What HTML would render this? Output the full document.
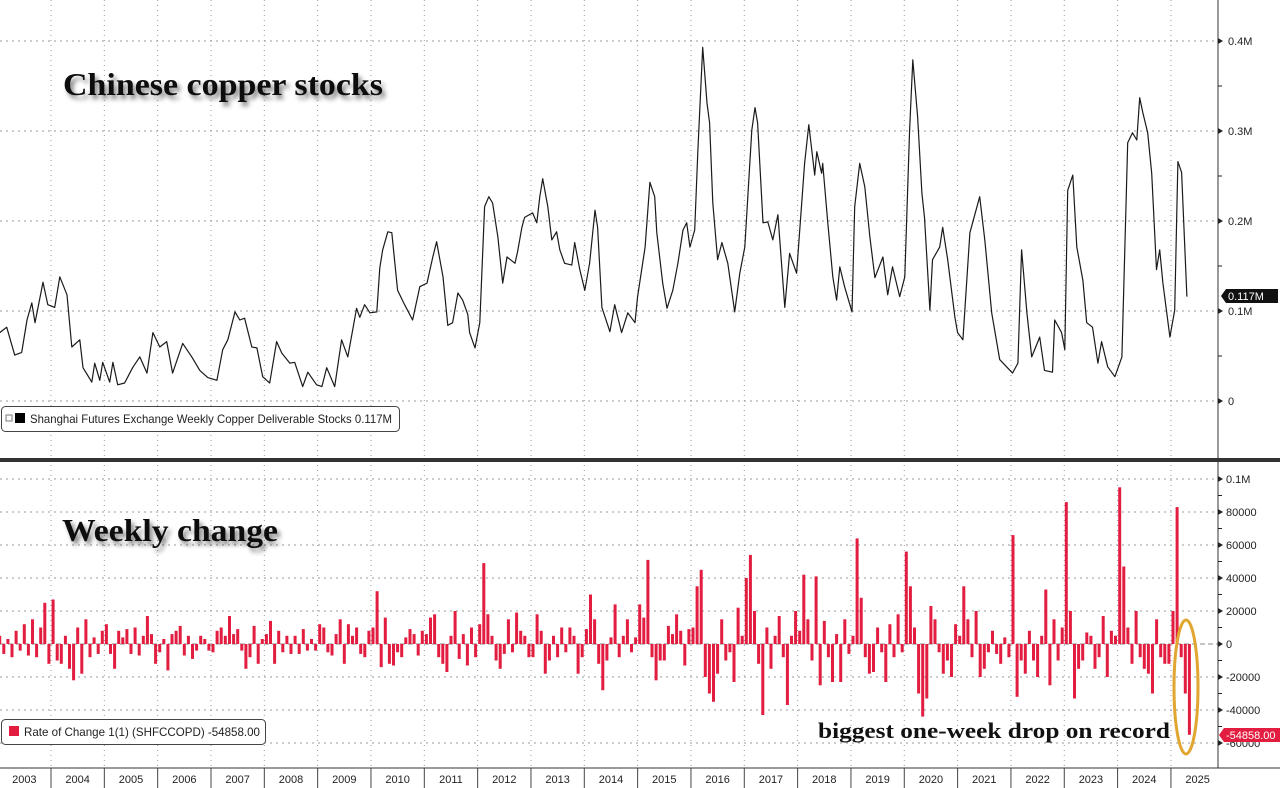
<!DOCTYPE html>
<html><head><meta charset="utf-8"><style>
html,body{margin:0;padding:0;background:#fff;}
svg{display:block;font-family:"Liberation Sans",sans-serif;}
</style></head><body>
<svg id="chart" width="1280" height="788" viewBox="0 0 1280 788"></svg>
<script>
// ---- Top panel data: Shanghai copper deliverable stocks (thousand tonnes) ----
const stockDates = [2003.04,2003.17,2003.32,2003.45,2003.55,2003.64,2003.70,2003.85,2003.94,2004.07,2004.165,2004.30,2004.39,2004.54,2004.60,2004.765,2004.82,2004.915,2004.97,2005.10,2005.16,2005.25,2005.38,2005.53,2005.665,2005.80,2005.91,2006.04,2006.17,2006.28,2006.47,2006.64,2006.79,2006.94,2007.11,2007.22,2007.315,2007.45,2007.54,2007.63,2007.765,2007.86,2007.97,2008.10,2008.23,2008.33,2008.48,2008.57,2008.72,2008.815,2008.98,2009.08,2009.17,2009.32,2009.45,2009.565,2009.73,2009.79,2009.88,2009.98,2010.11,2010.165,2010.22,2010.315,2010.39,2010.50,2010.63,2010.78,2010.915,2011.05,2011.16,2011.23,2011.35,2011.44,2011.53,2011.63,2011.72,2011.815,2011.85,2011.95,2012.04,2012.13,2012.21,2012.28,2012.38,2012.47,2012.55,2012.70,2012.75,2012.83,2012.88,2013.03,2013.11,2013.165,2013.22,2013.315,2013.39,2013.48,2013.54,2013.63,2013.765,2013.82,2013.915,2014.01,2014.10,2014.20,2014.25,2014.33,2014.48,2014.57,2014.70,2014.815,2014.95,2015.00,2015.14,2015.23,2015.32,2015.36,2015.47,2015.55,2015.66,2015.755,2015.85,2015.92,2015.98,2016.07,2016.13,2016.22,2016.30,2016.35,2016.41,2016.50,2016.58,2016.69,2016.82,2016.915,2017.01,2017.14,2017.20,2017.25,2017.35,2017.44,2017.535,2017.63,2017.76,2017.85,2017.98,2018.13,2018.21,2018.32,2018.36,2018.45,2018.47,2018.565,2018.66,2018.73,2018.79,2018.88,2019.02,2019.07,2019.165,2019.26,2019.355,2019.45,2019.60,2019.69,2019.78,2019.915,2020.01,2020.10,2020.16,2020.25,2020.33,2020.38,2020.48,2020.53,2020.665,2020.72,2020.815,2020.95,2021.00,2021.10,2021.23,2021.415,2021.51,2021.64,2021.79,2022.03,2022.13,2022.20,2022.30,2022.39,2022.54,2022.63,2022.78,2022.82,2022.95,2023.01,2023.065,2023.16,2023.235,2023.35,2023.42,2023.53,2023.63,2023.70,2023.815,2023.95,2024.08,2024.19,2024.28,2024.36,2024.415,2024.47,2024.565,2024.64,2024.73,2024.79,2024.85,2024.98,2025.07,2025.13,2025.20,2025.30];
const stockValues = [76,82,51,54,90,109,87,132,107,104,138,118,60,68,37,21,42,23,43,21,43,18,20,37,49,31,76,60,66,31,64,49,34,26,23,57,68,99,90,92,60,59,27,20,66,53,42,43,16,32,18,16,37,16,68,49,103,93,107,98,99,148,168,188,187,123,107,90,127,131,160,177,138,84,87,120,112,96,76,59,87,216,227,220,182,131,160,153,166,193,204,209,198,227,247,216,179,188,168,153,151,176,146,123,153,212,193,104,77,107,76,98,87,116,171,243,227,187,131,103,123,153,190,198,171,190,279,393,331,309,220,157,176,153,99,142,171,301,326,309,198,199,179,207,104,164,142,264,307,251,277,253,264,198,138,112,149,127,99,216,264,238,182,137,160,118,149,116,138,301,379,316,231,204,101,157,171,193,157,93,76,68,187,227,179,98,46,31,42,168,98,49,71,34,32,90,76,57,234,251,171,134,87,82,42,66,38,27,49,287,298,290,337,321,298,253,146,168,131,71,101,266,254,116];
// ---- Bottom panel data: weekly change (thousand tonnes), 13 samples per year ----
const changeYears = [2003,2004,2005,2006,2007,2008,2009,2010,2011,2012,2013,2014,2015,2016,2017,2018,2019,2020,2021,2022,2023,2024,2025];
const changeValues = [
[5,-6,3,-8,8,-4,12,-7,15,-8,10,25,-12],
[27,-10,-12,5,-15,-22,10,-18,15,-8,4,-6,8],
[12,-6,-15,8,4,9,-6,10,-7,5,17,6,-12],
[-5,3,-16,6,8,11,-7,5,-9,-4,5,3,-4],
[-5,8,10,5,17,6,9,-4,-15,-8,11,-12,3],
[6,14,-12,8,-5,5,-6,5,-6,9,-4,3,-4],
[12,10,-5,-7,6,15,-12,12,5,10,-6,-8,8],
[10,32,-14,16,-12,-13,-5,-8,4,9,6,-7,8],
[6,16,18,-8,-12,-17,5,20,-9,6,-13,10,-8],
[12,49,18,5,-10,-15,-6,15,-5,19,8,5,-8],
[-8,18,8,-18,-10,5,-8,10,-5,10,5,-18,-8],
[9,30,15,-12,-28,-10,4,24,-8,5,15,-5,4],
[24,16,51,-8,-22,-10,-10,11,6,18,8,-13,9],
[10,35,45,-20,-30,-35,-18,15,-10,-5,-23,22,5],
[40,54,20,-12,-43,10,-15,5,17,-8,-37,5,20],
[8,42,15,-10,41,-25,14,-8,-23,6,-23,15,-6],
[5,64,28,-8,-18,-17,10,-5,-23,12,-8,18,-5],
[56,35,10,-30,-44,-33,23,15,-5,-18,-10,-20,12],
[5,35,15,-8,20,-20,-15,-5,8,-6,-12,4,-8],
[66,-32,-10,-18,8,-10,-20,5,33,-25,15,-10,10],
[86,20,-33,-15,-10,7,5,-15,-8,17,-20,8,5],
[95,47,10,-12,20,-8,-15,-18,-30,15,-8,-12,-12],
[20,83,-8,-30,-55]
];
const topTicks = [0,100,200,300,400];
const topTickLabels = ["0","0.1M","0.2M","0.3M","0.4M"];
const botTicks = [-60,-40,-20,0,20,40,60,80,100];
const botTickLabels = ["-60000","-40000","-20000","0","20000","40000","60000","80000","0.1M"];
const yearLabels = [2003,2004,2005,2006,2007,2008,2009,2010,2011,2012,2013,2014,2015,2016,2017,2018,2019,2020,2021,2022,2023,2024,2025];

const NS="http://www.w3.org/2000/svg";
const svg=document.getElementById('chart');
function mk(tag,attrs,parent){const e=document.createElementNS(NS,tag);for(const k in attrs)e.setAttribute(k,attrs[k]);(parent||svg).appendChild(e);return e;}
const PR=1218;
function xT(t){return 51+(t-2004)*53.33;}
function yTop(v){return 401-v*0.9;}
function yBot(v){return 644-v*1.65;}

const grid=mk('g',{});


for(let y=2004;y<=2025;y++){
  const x=xT(y);
  mk('line',{x1:x,y1:0,x2:x,y2:768,stroke:'#9a9a9a','stroke-width':1,'stroke-dasharray':'1,4'},grid);
}
topTicks.forEach(v=>mk('line',{x1:0,y1:yTop(v),x2:PR,y2:yTop(v),stroke:'#9a9a9a','stroke-width':1,'stroke-dasharray':'2,4'},grid));
botTicks.forEach(v=>mk('line',{x1:0,y1:yBot(v),x2:PR,y2:yBot(v),stroke:v===0?'#888':'#9a9a9a','stroke-width':1,'stroke-dasharray':v===0?'5,3':'2,4'},grid));

let d='';
stockDates.forEach((t,i)=>{d+=(i?'L':'M')+xT(t).toFixed(1)+' '+yTop(stockValues[i]).toFixed(1);});
const line=mk('path',{d:d,fill:'none',stroke:'#1a1a1a','stroke-width':1.2,'stroke-linejoin':'round'});



const bars=mk('g',{fill:'#e21d3f'});


changeYears.forEach((yr,yi)=>{
  changeValues[yi].forEach((v,i)=>{
    const t=yr+(i+0.5)/13;
    const x=xT(t);
    const y0=yBot(0),y1=yBot(v);
    const r=mk('rect',{x:(x-1.5).toFixed(1),y:Math.min(y0,y1).toFixed(1),width:3,height:Math.max(1,Math.abs(y1-y0)).toFixed(1)},bars);
    
    
  });
});

mk('line',{x1:PR,y1:0,x2:PR,y2:768,stroke:'#333','stroke-width':1});
mk('rect',{x:0,y:458,width:PR,height:4,fill:'#333'});
mk('rect',{x:PR,y:458,width:62,height:4,fill:'#333'});
mk('line',{x1:0,y1:768,x2:1280,y2:768,stroke:'#333','stroke-width':1});

topTicks.forEach((v,i)=>{
  const y=yTop(v);
  mk('path',{d:`M${PR} ${y-3}L${PR+5} ${y}L${PR} ${y+3}Z`,fill:'#222'});
  const t=mk('text',{x:1228,y:y+4,'font-size':11,fill:'#222'});t.textContent=topTickLabels[i];
  
  
});
for(let v=50;v<450;v+=100){const y=yTop(v);mk('line',{x1:PR,y1:y,x2:PR+4,y2:y,stroke:'#222'});}
botTicks.forEach((v,i)=>{
  const y=yBot(v);
  mk('path',{d:`M${PR} ${y-3}L${PR+5} ${y}L${PR} ${y+3}Z`,fill:'#222'});
  const t=mk('text',{x:1226,y:y+4,'font-size':11,fill:'#222'});t.textContent=botTickLabels[i];
  
  
});
for(let v=-50;v<100;v+=20){const y=yBot(v);mk('line',{x1:PR,y1:y,x2:PR+4,y2:y,stroke:'#222'});}

yearLabels.forEach(yr=>{
  const x0=xT(yr);
  mk('line',{x1:x0,y1:768,x2:x0,y2:788,stroke:'#444'});
  const t=mk('text',{x:xT(yr+0.5),y:783,'font-size':11,fill:'#222','text-anchor':'middle'});t.textContent=yr;
  
  
});

const tag1=mk('g',{});


mk('path',{d:'M1221 296L1226 289H1278V303H1226Z',fill:'#111'},tag1);
const tt1=mk('text',{x:1228,y:300,'font-size':11,fill:'#fff'},tag1);tt1.textContent='0.117M';
const tag2=mk('g',{});


mk('path',{d:'M1219 735L1224 728H1280V742H1224Z',fill:'#e21d3f'},tag2);
const tt2=mk('text',{x:1226,y:739,'font-size':11,fill:'#fff'},tag2);tt2.textContent='-54858.00';
</script>
<svg width="1280" height="788" style="position:absolute;left:0;top:0">
<defs><filter id="sh" x="-10%" y="-30%" width="130%" height="170%"><feGaussianBlur in="SourceAlpha" stdDeviation="2.5"/><feOffset dx="3" dy="4"/><feComponentTransfer><feFuncA type="linear" slope="0.5"/></feComponentTransfer><feMerge><feMergeNode/><feMergeNode in="SourceGraphic"/></feMerge></filter></defs>
<text x="63" y="95" font-family="'Liberation Serif',serif" font-weight="bold" font-size="32" fill="#111" filter="url(#sh)" textLength="320" lengthAdjust="spacingAndGlyphs">Chinese copper stocks</text>
<text x="62" y="541" font-family="'Liberation Serif',serif" font-weight="bold" font-size="32" fill="#111" filter="url(#sh)" textLength="216" lengthAdjust="spacingAndGlyphs">Weekly change</text>
<g>
<rect x="1.5" y="406.5" width="398" height="25" rx="4" fill="#fff" stroke="#444"/>
<rect x="6" y="415" width="6" height="6" fill="#fff" stroke="#777"/>
<rect x="15" y="413" width="10" height="10" fill="#000"/>
<text x="30" y="423" font-size="12" fill="#222" textLength="362" lengthAdjust="spacingAndGlyphs">Shanghai Futures Exchange Weekly Copper Deliverable Stocks 0.117M</text>
</g>
<g>
<rect x="1.5" y="719.5" width="264" height="25" rx="4" fill="#fff" stroke="#444"/>
<rect x="9" y="726" width="10" height="10" fill="#e21d3f"/>
<text x="24" y="736" font-size="12" fill="#222" textLength="236" lengthAdjust="spacingAndGlyphs">Rate of Change 1(1) (SHFCCOPD) -54858.00</text>
</g>
<text x="818" y="738" font-family="'Liberation Serif',serif" font-weight="bold" font-size="22" fill="#111" textLength="352" lengthAdjust="spacingAndGlyphs">biggest one-week drop on record</text>
<ellipse cx="1186" cy="687" rx="12" ry="67" fill="none" stroke="#e0a630" stroke-width="3"/>
</svg>
</body></html>
